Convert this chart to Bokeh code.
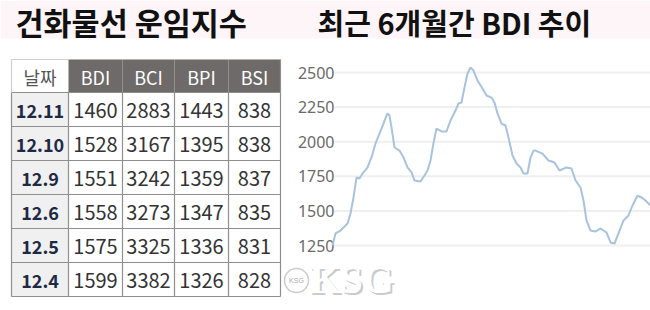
from bokeh.plotting import figure
from bokeh.models import Range1d, ColumnDataSource
from bokeh.core.properties import value
from bokeh.embed import file_html
from bokeh.resources import INLINE

# ---------------- data ----------------
title_left = "건화물선 운임지수"
title_right = "최근 6개월간 BDI 추이"
headers = ["날짜", "BDI", "BCI", "BPI", "BSI"]
dates = ["12.11", "12.10", "12.9", "12.6", "12.5", "12.4"]
bdi = [1460, 1528, 1551, 1558, 1575, 1599]
bci = [2883, 3167, 3242, 3273, 3325, 3382]
bpi = [1443, 1395, 1359, 1347, 1336, 1326]
bsi = [838, 838, 837, 835, 831, 828]

trend_day = [0, 3, 8, 15, 18, 21, 24, 27, 30, 35, 39, 43, 47, 51, 54, 55, 57, 59, 62, 67,
             71, 75, 79, 82, 88, 92, 95, 98, 101, 104, 109, 114, 118, 123, 126, 129, 132,
             135, 138, 141, 145, 150, 154, 159, 162, 165, 169, 173, 176, 180, 184, 188, 191,
             195, 198, 201, 203, 210, 216, 222, 227, 234, 239, 243, 248, 251, 254, 258, 263,
             268, 274, 278, 282, 286, 291, 296, 300, 305, 309, 313, 318]
trend_bdi = [1250, 1337, 1358, 1409, 1481, 1597, 1741, 1734, 1770, 1814, 1886, 1987, 2059,
             2131, 2189, 2204, 2189, 2103, 1958, 1936, 1886, 1814, 1778, 1720, 1712, 1756,
             1792, 1864, 1990, 2095, 2074, 2074, 2153, 2225, 2276, 2283, 2392, 2493, 2536,
             2514, 2442, 2384, 2334, 2319, 2283, 2204, 2131, 2117, 2030, 1900, 1842, 1814,
             1770, 1770, 1886, 1936, 1936, 1914, 1864, 1850, 1792, 1814, 1806, 1720, 1669,
             1575, 1431, 1358, 1351, 1373, 1344, 1272, 1264, 1337, 1431, 1467, 1539, 1611,
             1597, 1575, 1539]
y_ticks = [1250, 1500, 1750, 2000, 2250, 2500]
y_tick_labels = [str(t) for t in y_ticks]

# ---------------- layout ----------------
W, H = 650, 310
FONT = value("Noto Sans CJK KR")

p = figure(width=W, height=H, output_backend="svg", toolbar_location=None,
           x_range=Range1d(0, W), y_range=Range1d(H, 0), min_border=0)
p.axis.visible = False
p.grid.visible = False
p.outline_line_color = None
p.background_fill_color = "white"
p.border_fill_color = "white"

# title band
p.quad(left=[0], right=[W], top=[0], bottom=[38], fill_color="#fdf5f7", line_color=None)
p.text(x=[15], y=[21], text=[title_left], text_font=FONT, text_font_size="30.5px",
       text_font_style="bold", text_color="#111111", text_baseline="middle")
p.text(x=[317], y=[21], text=[title_right], text_font=FONT, text_font_size="29px",
       text_font_style="bold", text_color="#111111", text_baseline="middle")

# ---------------- table ----------------
col_edges = [11, 68, 122, 174, 228, 280]
head_top, head_bot = 59, 92
row_h = 34
columns = [dates, bdi, bci, bpi, bsi]
n_rows = len(dates)

# header cells
for j, h in enumerate(headers):
    l, r = col_edges[j], col_edges[j + 1]
    fill = "#ffffff" if j == 0 else "#6e6a69"
    p.quad(left=[l], right=[r], top=[head_top], bottom=[head_bot], fill_color=fill,
           line_color=None)
    p.text(x=[(l + r) / 2], y=[(head_top + head_bot) / 2 + 1], text=[h], text_font=FONT,
           text_font_size="18px", text_color="#555555" if j == 0 else "#ffffff",
           text_align="center", text_baseline="middle")

# body cells
for i in range(n_rows):
    t = head_bot + i * row_h
    b = t + row_h
    for j in range(5):
        l, r = col_edges[j], col_edges[j + 1]
        fill = "#f0f0f0" if j == 0 else "#ffffff"
        p.quad(left=[l], right=[r], top=[t], bottom=[b], fill_color=fill, line_color=None)
        if j == 0:
            p.text(x=[(l + r) / 2], y=[(t + b) / 2 + 1], text=[str(columns[j][i])],
                   text_font=FONT, text_font_size="18px", text_color="#1e2a45",
                   text_font_style="bold", text_align="center", text_baseline="middle")
        else:
            p.text(x=[(l + r) / 2], y=[(t + b) / 2 + 1], text=[str(columns[j][i])],
                   text_font=FONT, text_font_size="20px", text_color="#333333",
                   text_align="center", text_baseline="middle")

table_bot = head_bot + n_rows * row_h
# grid lines of table
hy = [head_bot + i * row_h for i in range(n_rows + 1)]
p.segment(x0=[col_edges[0]] * len(hy), x1=[col_edges[-1]] * len(hy), y0=hy, y1=hy,
          line_color="#8f8f8f", line_width=1.2)
p.segment(x0=[col_edges[0]], x1=[col_edges[1]], y0=[head_top], y1=[head_top],
          line_color="#cfcfcf", line_width=1.2)
vx = col_edges
p.segment(x0=vx, x1=vx, y0=[head_bot] * len(vx), y1=[table_bot] * len(vx),
          line_color="#8f8f8f", line_width=1.2)
p.segment(x0=[col_edges[0]], x1=[col_edges[0]], y0=[head_top], y1=[head_bot],
          line_color="#cfcfcf", line_width=1.2)
p.segment(x0=[col_edges[-1]], x1=[col_edges[-1]], y0=[head_top], y1=[head_bot],
          line_color="#8f8f8f", line_width=1.2)

# ---------------- BDI chart ----------------
chart_left, chart_right = 332, 650
px_1250, px_2500 = 245, 72
span = trend_day[-1] - trend_day[0]
sx = (chart_right - chart_left) / span
p.extra_x_ranges = {"day": Range1d(trend_day[0] - chart_left / sx,
                                   trend_day[0] + (W - chart_left) / sx)}
sy = (y_ticks[-1] - y_ticks[0]) / (px_1250 - px_2500)
p.extra_y_ranges = {"bdi": Range1d(y_ticks[0] - (H - px_1250) * sy,
                                   y_ticks[0] + px_1250 * sy)}

p.segment(x0=[trend_day[0] + 2 / sx] * len(y_ticks), x1=[trend_day[-1]] * len(y_ticks),
          y0=y_ticks, y1=y_ticks, line_color="#efefef", line_width=2,
          x_range_name="day", y_range_name="bdi")
p.text(x=[trend_day[0] + 2 / sx] * len(y_ticks), y=y_ticks, text=y_tick_labels,
       text_font=value("Noto Sans"), text_font_size="16px", text_color="#6a6a6a",
       text_align="right", text_baseline="middle", x_range_name="day", y_range_name="bdi")
src = ColumnDataSource(dict(d=trend_day, v=trend_bdi))
p.line("d", "v", source=src, line_color="#a8c3df", line_width=2,
       x_range_name="day", y_range_name="bdi")

# ---------------- watermark ----------------
p.text(x=[311], y=[281], text=["KSG"], text_font=value("Liberation Serif"),
       text_font_size="40px", text_font_style="bold", text_color="#8a8a8a", text_alpha=0.45,
       text_baseline="middle")
p.text(x=[309], y=[279], text=["KSG"], text_font=value("Liberation Serif"),
       text_font_size="40px", text_font_style="bold", text_color="#ffffff",
       text_baseline="middle")
p.scatter(x=[296], y=[280], size=24, marker="circle", fill_color="#ffffff",
          line_color="#cccccc", line_width=1.5)
p.text(x=[296], y=[280], text=["KSG"], text_font=value("Liberation Sans"),
       text_font_size="7px", text_color="#aaaaaa", text_align="center",
       text_baseline="middle")

open("out.html", "w").write(file_html(p, INLINE))
